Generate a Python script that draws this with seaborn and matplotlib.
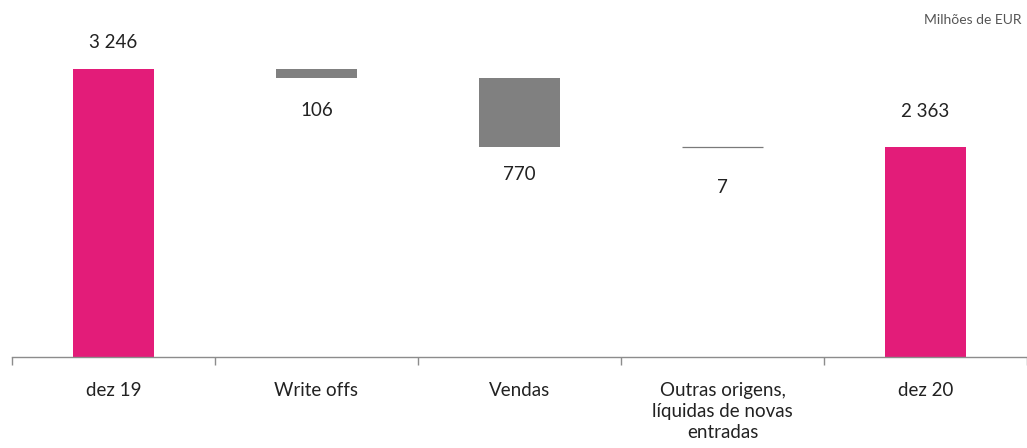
import matplotlib
matplotlib.use("Agg")
import matplotlib.pyplot as plt
import seaborn as sns
import pandas as pd

categories = ["dez 19", "Write offs", "Vendas",
              "Outras origens,\nlíquidas de novas\nentradas", "dez 20"]
changes = [3246, -106, -770, -7, 2363]
labels = ["3 246", "106", "770", "7", "2 363"]
is_total = [True, False, False, False, True]

# build waterfall tops / bases
tops, bases = [], []
running = 0
for val, tot in zip(changes, is_total):
    if tot:
        bases.append(0)
        tops.append(val)
        running = val
    else:
        new = running + val
        bases.append(min(running, new))
        tops.append(max(running, new))
        running = new

df = pd.DataFrame({"cat": categories, "top": tops, "base": bases,
                   "kind": ["total" if t else "delta" for t in is_total]})

sns.set_style("white")
plt.rcParams['font.family'] = ['Lato', 'DejaVu Sans']

fig = plt.figure(figsize=(10.27, 4.48), dpi=100)
ax = fig.add_axes([12 / 1027, (448 - 357) / 448, 1.0 - 12 / 1027, 357 / 448])

pal = {"total": "#E31C79", "delta": "#808080"}
sns.barplot(data=df, x="cat", y="top", hue="kind", palette=pal, order=categories,
            width=0.4, dodge=False, legend=False, ax=ax, saturation=1,
            edgecolor="none")
# mask the lower part of the floating bars
sns.barplot(data=df, x="cat", y="base", order=categories, color="white",
            width=0.4, ax=ax, saturation=1, edgecolor="none")

# tiny change: draw as a line on the bar top
for i, (t, b) in enumerate(zip(tops, bases)):
    if t - b < 20:
        ax.hlines(t, i - 0.2, i + 0.2, color="#7a7a7a", lw=0.9)

px = 0.72
offsets = [27, -32, -28, -40, 36]
for i, (lab, t, b) in enumerate(zip(labels, tops, bases)):
    y = t if offsets[i] > 0 else b
    ax.annotate(lab, (i, y), xytext=(0, offsets[i] * px), textcoords="offset points",
                ha="center", va="center", fontsize=13.5, color="#222222")

ax.set_xlim(-0.5, 4.45)
ax.set_ylim(0, 4025)
ax.set_xlabel("")
ax.set_ylabel("")
ax.set_yticks([])
for s in ["top", "right", "left"]:
    ax.spines[s].set_visible(False)
ax.spines["bottom"].set_color("#8c8c8c")
ax.spines["bottom"].set_linewidth(1)
ax.set_xticks(range(5))
ax.set_xticklabels(categories, fontsize=13.5, color="#222222", linespacing=1.3)
ax.set_xticks([i - 0.5 for i in range(6)], minor=True)
ax.tick_params(axis="x", which="major", length=0, pad=18)
ax.tick_params(axis="x", which="minor", length=6, color="#8c8c8c", width=1,
               direction="out", bottom=True)

fig.text(924 / 1027, 1 - 20 / 448, "Milhões de EUR", fontsize=10, color="#555555",
         ha="left", va="center")

fig.savefig("out.png", dpi=100)
